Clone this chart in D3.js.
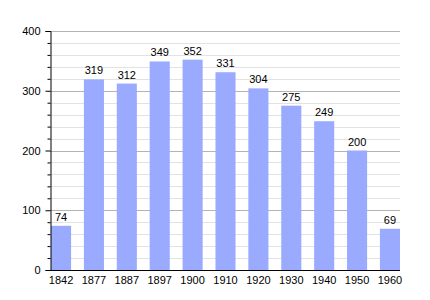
<html>
<head>
<meta charset="utf-8">
<script src="https://cdn.jsdelivr.net/npm/d3@7"></script>
<style>
  body { margin: 0; background: #fff; }
  text { font-family: "Liberation Sans", Arial, sans-serif; font-size: 11px; }
</style>
</head>
<body>
<script>
var years = ["1842","1877","1887","1897","1900","1910","1920","1930","1940","1950","1960"];
var population = [74, 319, 312, 349, 352, 331, 304, 275, 249, 200, 69];
var majorTicks = [0, 100, 200, 300, 400];

var width = 430, height = 300;
var plotLeft = 50, plotRight = 400, plotTop = 31, plotBottom = 270;

var svg = d3.select("body").append("svg")
    .attr("width", width)
    .attr("height", height);

var x = d3.scaleBand()
    .domain(years)
    .range([plotLeft + 1, plotRight])
    .paddingInner(0.39)
    .paddingOuter(0);

var y = d3.scaleLinear()
    .domain([0, 400])
    .range([plotBottom, plotTop]);

var minorTicks = d3.range(20, 400, 20).filter(function(d){ return d % 100 != 0; });

// minor gridlines every 20
svg.append("g").selectAll("line")
    .data(minorTicks)
    .enter().append("line")
    .attr("x1", plotLeft).attr("x2", plotRight)
    .attr("y1", function(d){ return Math.round(y(d)) + 0.5; })
    .attr("y2", function(d){ return Math.round(y(d)) + 0.5; })
    .attr("stroke", "#e2e2e2");

// major gridlines
svg.append("g").selectAll("line")
    .data(majorTicks.slice(1))
    .enter().append("line")
    .attr("x1", plotLeft).attr("x2", plotRight)
    .attr("y1", function(d){ return Math.round(y(d)) + 0.5; })
    .attr("y2", function(d){ return Math.round(y(d)) + 0.5; })
    .attr("stroke", "#b4b4b4");

// bars
svg.append("g").selectAll("rect")
    .data(population)
    .enter().append("rect")
    .attr("x", function(d, i){ return x(years[i]); })
    .attr("y", function(d){ return y(d); })
    .attr("width", x.bandwidth())
    .attr("height", function(d){ return plotBottom - y(d); })
    .attr("fill", "#99aaff");

// value labels
svg.append("g").selectAll("text")
    .data(population)
    .enter().append("text")
    .attr("x", function(d, i){ return x(years[i]) + x.bandwidth() / 2; })
    .attr("y", function(d){ return y(d) - 5; })
    .attr("text-anchor", "middle")
    .attr("fill", "#000")
    .text(function(d){ return d; });

// y axis: major ticks
var gy = svg.append("g")
    .attr("transform", "translate(" + (plotLeft + 0.5) + ",0)")
    .call(d3.axisLeft(y)
        .tickValues(majorTicks)
        .tickSize(5)
        .tickPadding(5)
        .tickFormat(d3.format("d")));
gy.select(".domain").attr("stroke", "#000");
gy.selectAll("text").style("font-size", "11px").attr("fill", "#000");

// y axis minor ticks
svg.append("g")
    .attr("transform", "translate(" + (plotLeft + 0.5) + ",0)")
    .call(d3.axisLeft(y).tickValues(minorTicks).tickSize(3).tickFormat(""))
    .select(".domain").remove();

// x axis
var gx = svg.append("g")
    .attr("transform", "translate(0," + (plotBottom + 0.5) + ")")
    .call(d3.axisBottom(x).tickSize(0).tickPadding(6));
gx.select(".domain").attr("d", "M" + plotLeft + ",0H" + plotRight).attr("stroke", "#000");
gx.selectAll("text").style("font-size", "11px").attr("fill", "#000");
</script>
</body>
</html>
